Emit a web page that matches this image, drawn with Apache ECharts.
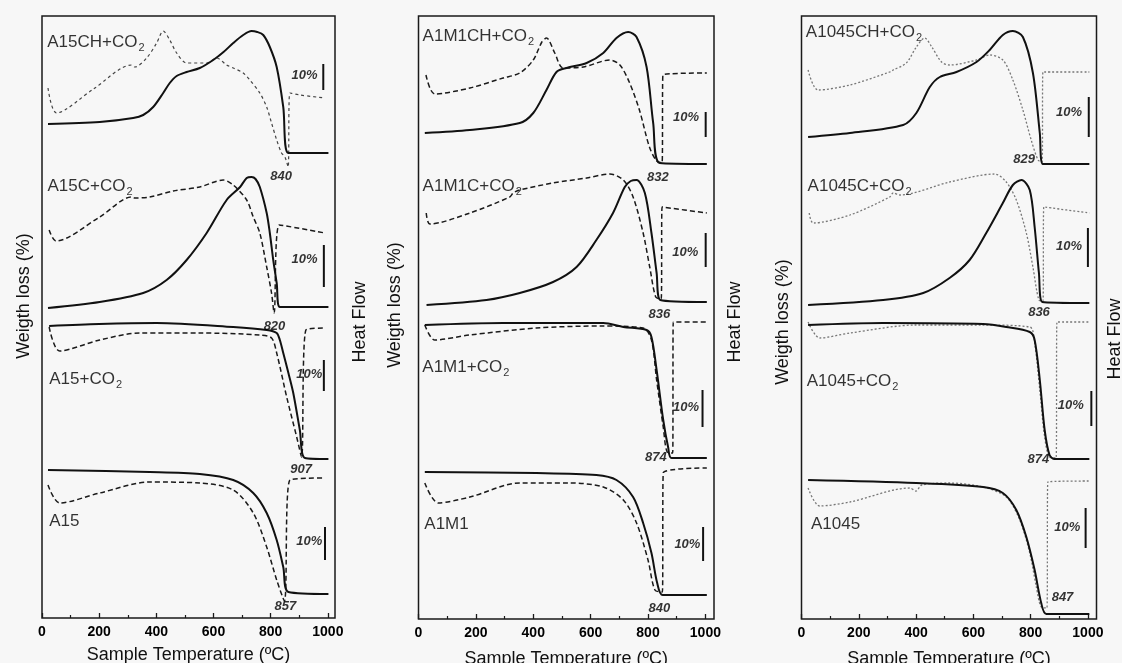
<!DOCTYPE html>
<html>
<head>
<meta charset="utf-8">
<script src="https://cdn.jsdelivr.net/npm/echarts@6/dist/echarts.min.js"></script>
<style>
html, body { margin: 0; padding: 0; background: #f7f7f7; }
#main { width: 1122px; height: 663px; }
</style>
</head>
<body>
<div id="main"></div>
<script>
// TG (solid) and heat flow (dashed) curves, [temperature, stacked height]
// panel 1 : A15
var a15chTg = [[21,494],[202,496],[319,500],[354,503],[389,511],[424,525],[447,535],[471,542],[506,546],[552,550],[599,558],[635,566],[669,575],[704,583],[733,587],[753,586],[774,583],[797,571],[821,551],[844,511],[862,465],[1002,465]];
var a15chHf = [[21,530],[51,505],[180,529],[313,553],[325,551],[366,560],[401,575],[424,587],[447,578],[471,565],[506,555],[576,555],[611,560],[646,553],[669,550],[704,545],[727,538],[762,525],[786,511],[803,495],[821,478],[838,465],[850,461],[861,451],[867,525],[902,523],[990,520]];
var a15cTg = [[21,310],[202,316],[354,325],[436,338],[506,358],[576,385],[646,418],[693,431],[716,440],[733,441],[747,439],[762,431],[786,405],[797,385],[809,358],[821,335],[832,311],[1002,311]];
var a15cHf = [[25,388],[49,377],[202,401],[313,421],[325,420],[377,421],[459,427],[552,431],[634,438],[669,433],[716,418],[739,401],[762,385],[786,351],[803,325],[812,305],[830,393],[990,385]];
var a15co2Tg = [[25,292],[200,294],[401,295],[669,291],[786,288],[821,285],[832,278],[844,265],[862,245],[879,225],[902,188],[920,160],[1002,159]];
var a15co2Hf = [[25,291],[62,267],[202,278],[342,285],[552,285],[762,283],[803,280],[821,265],[856,221],[891,181],[908,161],[923,288],[990,290]];
var a15Tg = [[21,148],[377,146],[552,144],[669,138],[739,125],[786,105],[821,78],[844,51],[862,26],[1002,24]];
var a15Hf = [[21,133],[62,115],[202,125],[377,136],[552,135],[669,128],[739,105],[786,71],[821,38],[848,17],[867,138],[990,140]];

// panel 2 : A1M1
var a1m1chTg = [[22,486],[179,489],[353,496],[400,506],[446,529],[481,547],[516,551],[586,556],[644,566],[690,581],[731,587],[760,582],[795,552],[818,496],[841,456],[1005,455]];
var a1m1chHf = [[26,544],[57,525],[179,531],[295,541],[353,546],[400,559],[430,577],[446,581],[475,566],[504,551],[574,552],[667,559],[702,554],[736,536],[770,509],[805,472],[830,458],[849,456],[852,544],[1005,546]];
var a1m1cTg = [[28,314],[237,319],[353,326],[469,337],[551,352],[620,379],[678,406],[719,432],[740,438],[760,439],[789,426],[812,386],[830,346],[843,319],[1005,317]];
var a1m1cHf = [[27,406],[40,395],[179,406],[318,422],[330,426],[353,429],[469,436],[586,441],[667,445],[714,439],[748,422],[783,386],[806,352],[827,322],[846,320],[849,412],[1005,406]];
var a1m1co2Tg = [[22,294],[295,296],[644,296],[714,292],[795,289],[812,282],[830,249],[853,199],[870,172],[882,161],[1005,161]];
var a1m1co2Hf = [[22,294],[57,279],[179,284],[411,291],[644,293],[783,291],[812,279],[830,239],[853,192],[867,167],[886,166],[888,297],[1005,297]];
var a1m1Tg = [[22,147],[411,146],[620,144],[690,139],[748,122],[783,96],[812,66],[832,36],[851,24],[1005,24]];
var a1m1Hf = [[22,136],[69,116],[179,122],[353,136],[527,136],[644,132],[714,119],[760,96],[800,59],[824,29],[850,27],[853,146],[1005,151]];

// panel 3 : A1045
var a1045chTg = [[23,482],[169,486],[355,494],[401,506],[448,532],[483,542],[541,547],[611,557],[657,569],[703,584],[738,588],[773,582],[808,546],[832,486],[843,455],[1005,455]];
var a1045chHf = [[23,549],[58,529],[169,534],[308,547],[320,549],[366,556],[401,572],[430,581],[455,572],[489,557],[517,554],[611,559],[657,564],[703,559],[738,539],[773,509],[802,479],[826,459],[840,457],[843,547],[1005,547]];
var a1045cTg = [[23,314],[285,319],[425,326],[517,341],[587,359],[645,386],[703,416],[738,434],[768,439],[797,429],[814,392],[829,346],[841,317],[1005,316]];
var a1045cHf = [[27,406],[41,396],[169,404],[308,422],[320,426],[343,424],[517,437],[674,445],[715,437],[750,419],[785,386],[808,352],[829,319],[843,318],[846,412],[1005,406]];
var a1045co2Tg = [[23,294],[285,296],[634,295],[715,292],[797,287],[814,279],[832,239],[849,189],[866,164],[884,160],[1005,160]];
var a1045co2Hf = [[23,297],[64,281],[169,286],[401,294],[634,294],[797,292],[814,276],[832,229],[849,182],[866,162],[889,161],[892,297],[1005,297]];
var a1045Tg = [[23,139],[401,136],[634,132],[703,126],[750,109],[785,82],[814,49],[837,16],[855,5],[1005,5]];
var a1045Hf = [[23,131],[64,113],[169,117],[378,131],[400,128],[420,134],[517,136],[634,132],[715,122],[762,99],[797,66],[820,32],[837,12],[857,11],[860,137],[1005,138]];

// sample names [T, h, name]
var p1Names = [[20,575,'A15CH+CO2'],[21,431,'A15C+CO2'],[27,238,'A15+CO2'],[27,96,'A15']];
var p2Names = [[16,582,'A1M1CH+CO2'],[16,432,'A1M1C+CO2'],[15,251,'A1M1+CO2'],[22,94,'A1M1']];
var p3Names = [[17,586,'A1045CH+CO2'],[23,432,'A1045C+CO2'],[20,237,'A1045+CO2'],[35,94,'A1045']];
// peak temperatures [T, h, text]
var p1Peaks = [[838,441,'840'],[815,291,'820'],[908,148,'907'],[853,11,'857']];
var p2Peaks = [[836,441,'832'],[841,304,'836'],[829,161,'874'],[841,10,'840']];
var p3Peaks = [[779,459,'829'],[831,306,'836'],[829,159,'874'],[913,21,'847']];
// 10% scale bars [T, h0, h1] and their labels [T, h]
var p1Bars = [[984,528,554],[986,331,373],[986,227,258],[990,58,91]];
var p2Bars = [[1001,482,507],[1001,352,386],[990,192,229],[992,58,92]];
var p3Bars = [[1003,482,522],[1000,352,391],[1012,193,228],[992,71,111]];
var p1Pct = [[920,542],[920,358],[937,243],[937,76]];
var p2Pct = [[934,501],[932,366],[934,211],[939,74]];
var p3Pct = [[936,506],[936,372],[942,213],[930,91]];

var xMajor = [0, 200, 400, 600, 800, 1000];
var xMinor = [100, 300, 500, 700, 900];

var font = 'Liberation Sans, Arial, sans-serif';
var chart = echarts.init(document.getElementById('main'));

function panelGrid(left, width, height) {
	return {
		left: left, top: 16, width: width, height: height, outerBoundsMode: 'none', containLabel: false,
		show: true, borderColor: '#1a1a1a', borderWidth: 1.5, backgroundColor: 'transparent'
	};
}
var grids = [panelGrid(42, 293, 602), panelGrid(418.5, 295.5, 603), panelGrid(801.5, 295, 603)];
var xMax = [1025, 1030, 1030];
var yMax = [602, 603, 603];
var nameGaps = [28, 31, 31];

var xAxes = [], yAxes = [];
for (var g = 0; g < 3; g++) {
	// labelled axis, major ticks
	xAxes.push({
		type: 'value', gridIndex: g, min: 0, max: xMax[g], position: 'bottom',
		axisLine: {show: false}, splitLine: {show: false},
		axisTick: {show: true, inside: true, length: 5, customValues: xMajor, lineStyle: {color: '#1a1a1a', width: 1.3}},
		axisLabel: {
			show: true, customValues: xMajor, margin: 7, fontSize: 14, fontWeight: 'bold', color: '#000', fontFamily: font,
			formatter: function (v) { return String(v); }
		},
		name: 'Sample Temperature (ºC)', nameLocation: 'middle', nameGap: nameGaps[g],
		nameTextStyle: {fontSize: 18, color: '#111', fontFamily: font}
	});
	// minor ticks
	xAxes.push({
		type: 'value', gridIndex: g, min: 0, max: xMax[g], position: 'bottom',
		axisLine: {show: false}, splitLine: {show: false}, axisLabel: {show: false},
		axisTick: {show: true, inside: true, length: 3, customValues: xMinor, lineStyle: {color: '#1a1a1a', width: 1.2}}
	});
	yAxes.push({type: 'value', gridIndex: g, min: 0, max: yMax[g], show: false});
}

var series = [];

function curve(g, data, style, z) {
	series.push({
		type: 'line', xAxisIndex: g * 2, yAxisIndex: g, data: data,
		symbol: 'none', smooth: 0.3, silent: true, z: z,
		lineStyle: style
	});
}

function subName(s) {
	if (s.slice(-3) == 'CO2') {
		return '{n|' + s.slice(0, -1) + '}{s|2}';
	}
	return '{n|' + s + '}';
}

function texts(g, list, labelOpt) {
	series.push({
		type: 'scatter', xAxisIndex: g * 2, yAxisIndex: g, symbolSize: 1, silent: true, z: 5,
		itemStyle: {color: 'rgba(0,0,0,0)'},
		data: list.map(function (d) { return {value: [d[0], d[1]], name: d[2] || '10%'}; }),
		label: labelOpt
	});
}

function bars(g, list) {
	list.forEach(function (b) {
		series.push({
			type: 'line', xAxisIndex: g * 2, yAxisIndex: g, symbol: 'none', silent: true, z: 4,
			data: [[b[0], b[1]], [b[0], b[2]]],
			lineStyle: {color: '#111', width: 2}
		});
	});
}

var solid = {color: '#111', width: 2, type: 'solid'};
var dashBlack = {color: '#1a1a1a', width: 1.5, type: [5, 3]};
var dashThin = {color: '#444', width: 1.2, type: [3, 3]};
var dotGrey = {color: '#777', width: 1.3, type: [2, 2]};

// panel 1
curve(0, a15chHf, dashThin, 2); curve(0, a15chTg, solid, 3);
curve(0, a15cHf, dashBlack, 2); curve(0, a15cTg, solid, 3);
curve(0, a15co2Hf, dashBlack, 2); curve(0, a15co2Tg, solid, 3);
curve(0, a15Hf, dashBlack, 2); curve(0, a15Tg, solid, 3);
// panel 2
curve(1, a1m1chHf, dashBlack, 2); curve(1, a1m1chTg, solid, 3);
curve(1, a1m1cHf, dashBlack, 2); curve(1, a1m1cTg, solid, 3);
curve(1, a1m1co2Hf, dashBlack, 2); curve(1, a1m1co2Tg, solid, 3);
curve(1, a1m1Hf, dashBlack, 2); curve(1, a1m1Tg, solid, 3);
// panel 3
curve(2, a1045chHf, dotGrey, 2); curve(2, a1045chTg, solid, 3);
curve(2, a1045cHf, dotGrey, 2); curve(2, a1045cTg, solid, 3);
curve(2, a1045co2Hf, dotGrey, 2); curve(2, a1045co2Tg, solid, 3);
curve(2, a1045Hf, dotGrey, 2); curve(2, a1045Tg, solid, 3);

var nameLabel = {
	show: true, position: [0, 0], align: 'left', verticalAlign: 'middle',
	formatter: function (p) { return subName(p.name); },
	rich: {
		n: {fontSize: 17, color: '#000', fontFamily: font},
		s: {fontSize: 11, color: '#000', fontFamily: font, padding: [11, 0, 0, 1]}
	}
};
var peakLabel = {
	show: true, position: [0, 0], align: 'center', verticalAlign: 'middle',
	formatter: '{b}', fontSize: 13, fontWeight: 'bold', fontStyle: 'italic', color: '#000', fontFamily: font
};

var allNames = [p1Names, p2Names, p3Names];
var allPeaks = [p1Peaks, p2Peaks, p3Peaks];
var allBars = [p1Bars, p2Bars, p3Bars];
var allPct = [p1Pct, p2Pct, p3Pct];
for (var k = 0; k < 3; k++) {
	texts(k, allNames[k], nameLabel);
	texts(k, allPeaks[k], peakLabel);
	texts(k, allPct[k], peakLabel);
	bars(k, allBars[k]);
}

// vertical axis titles
function vtitle(x, y, txt) {
	return {
		type: 'text', x: x, y: y, rotation: Math.PI / 2, silent: true,
		style: {text: txt, fontSize: 18, fontFamily: font, fill: '#111', align: 'center', verticalAlign: 'middle'}
	};
}

chart.setOption({
	backgroundColor: '#f7f7f7',
	animation: false,
	grid: grids,
	xAxis: xAxes,
	yAxis: yAxes,
	series: series,
	graphic: [
		vtitle(24, 296, 'Weigth loss (%)'),
		vtitle(360, 322, 'Heat Flow'),
		vtitle(395, 305, 'Weigth loss (%)'),
		vtitle(735, 322, 'Heat Flow'),
		vtitle(783, 322, 'Weigth loss (%)'),
		vtitle(1115, 339, 'Heat Flow')
	]
});
</script>
</body>
</html>
